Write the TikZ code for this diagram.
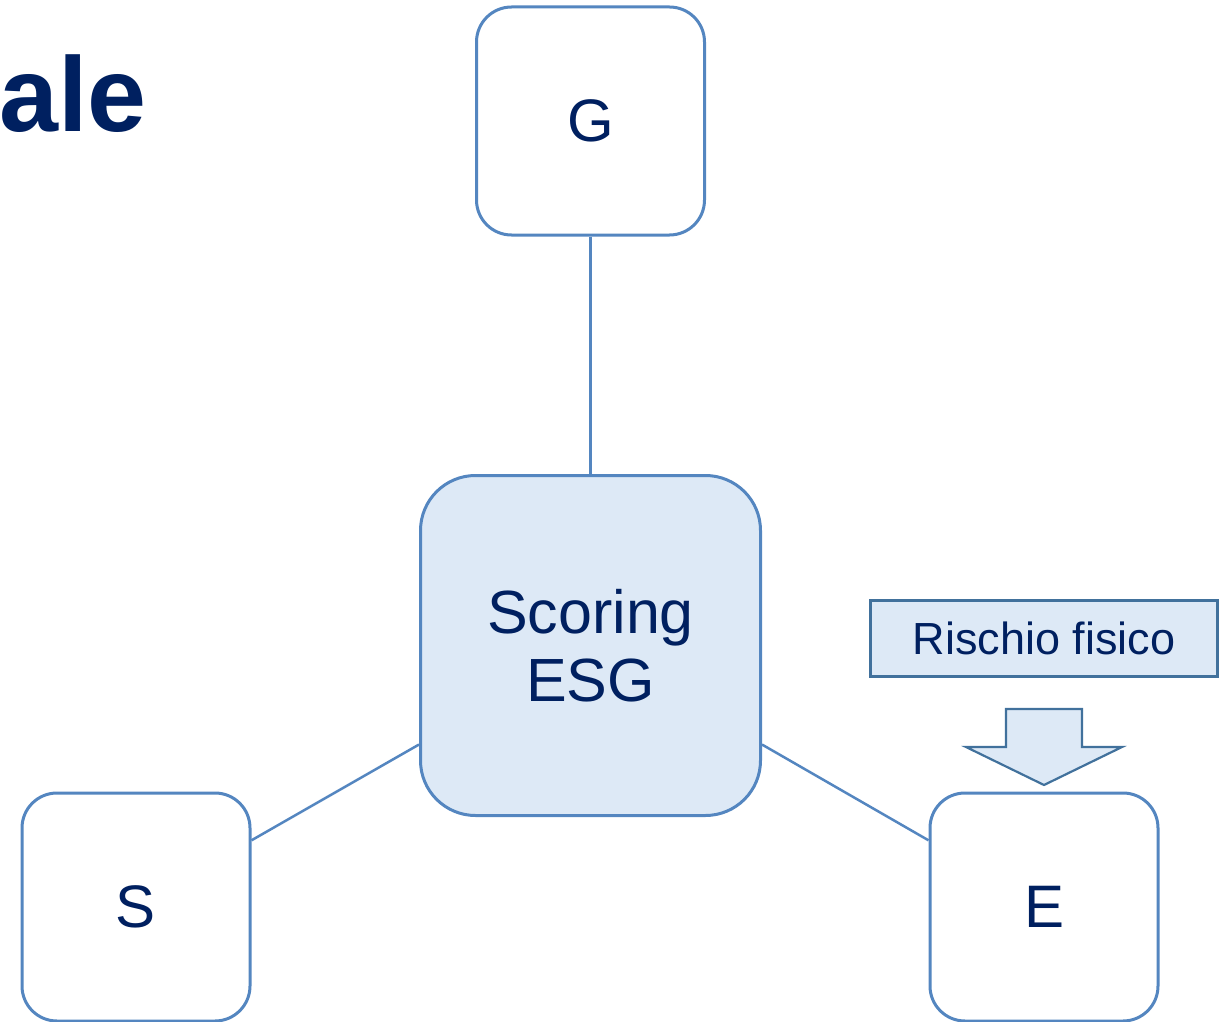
\documentclass[tikz,border=0pt]{standalone}
\usepackage{fontspec}
\setmainfont{Liberation Sans}
\definecolor{navy}{RGB}{0,32,96}
\definecolor{edge}{RGB}{84,134,192}
\definecolor{edgedark}{RGB}{65,113,156}
\definecolor{lightfill}{RGB}{221,233,246}
\begin{document}
\begin{tikzpicture}[x=1pt,y=-1pt,
  box/.style={draw=edge, line width=3pt, rounded corners=35pt, fill=white,
    minimum width=228pt, minimum height=228pt, inner sep=0pt, text=navy,
    font=\fontsize{60}{64}\selectfont},
  hub/.style={draw=edge, line width=3pt, rounded corners=55pt, fill=lightfill,
    minimum width=340pt, minimum height=340pt, inner sep=0pt, text=navy,
    align=center, font=\fontsize{61}{68}\selectfont},
  tag/.style={draw=edgedark, line width=2.2pt, fill=lightfill,
    minimum width=347pt, minimum height=76pt, inner sep=0pt, text=navy,
    font=\fontsize{45}{50}\selectfont},
  link/.style={draw=edge, line width=2.5pt},
  blockarrow/.style={draw=edgedark, line width=2.2pt, fill=lightfill, line join=miter}
]
\useasboundingbox (0,0) rectangle (1232,1022);
\node[anchor=base east, text=navy, font=\fontsize{106}{110}\selectfont\bfseries] (title) at (150,132) {ale};
\node[box] (g) at (590.5,121) {G};
\node[hub] (c) at (590.5,645.5) {Scoring\\ESG};
\node[box] (s) at (136,907) {S};
\node[box] (e) at (1044,907) {E};
\node[tag] (r) at (1044,638.5) {Rischio fisico};
\draw[link] (g.south) -- (c.north);
\draw[link] (c.210) -- (s.30);
\draw[link] (c.330) -- (e.150);
\coordinate (tip) at (1044,785);
\draw[blockarrow] (1006,709) -- (1082,709) -- (1082,747) -- (1122,747) -- (tip) -- (966,747) -- (1006,747) -- cycle;
\end{tikzpicture}
\end{document}
